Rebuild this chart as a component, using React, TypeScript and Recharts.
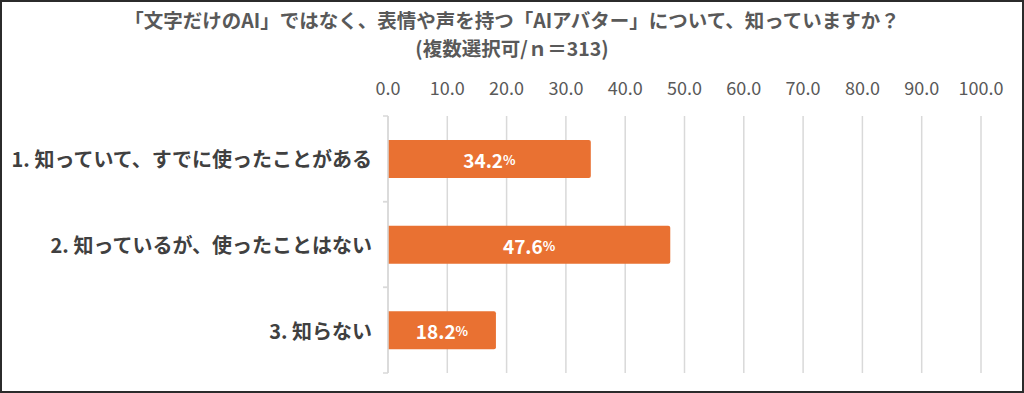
import React from "react";
import { BarChart, Bar, XAxis, YAxis, CartesianGrid, LabelList } from "recharts";

const categories = [
  "1. 知っていて、すでに使ったことがある",
  "2. 知っているが、使ったことはない",
  "3. 知らない",
];
const values = [34.2, 47.6, 18.2];
const xTicks = [0, 10, 20, 30, 40, 50, 60, 70, 80, 90, 100];
const titleLines = [
  "「文字だけのAI」ではなく、表情や声を持つ「AIアバター」について、知っていますか？",
  "(複数選択可/ｎ＝313)",
];

const data = categories.map((c, i) => ({ name: c, value: values[i] }));

const FONT = "'Noto Sans CJK JP', 'Noto Sans', sans-serif";
const GRID = "#d9d9d9";
const BAR = "#E97132";

const CategoryTick = (props: any) => {
  const { x, y, payload, height, visibleTicksCount } = props;
  const band = height && visibleTicksCount ? height / visibleTicksCount : 86;
  const axisX = x + 16;
  return (
    <g>
      <line x1={axisX - 5} x2={axisX} y1={y - band / 2} y2={y - band / 2} stroke={GRID} strokeWidth={1.5} />
      <line x1={axisX - 5} x2={axisX} y1={y + band / 2} y2={y + band / 2} stroke={GRID} strokeWidth={1.5} />
      <text
        x={x}
        y={y}
        textAnchor="end"
        dominantBaseline="central"
        fill="#404040"
        fontSize={20}
        fontWeight={700}
        fontFamily={FONT}
      >
        {payload.value}
      </text>
    </g>
  );
};

const ValueLabel = (props: any) => {
  const { x, y, width, height, value } = props;
  return (
    <text
      x={x + width / 2}
      y={y + height / 2}
      textAnchor="middle"
      dominantBaseline="central"
      fill="#ffffff"
      fontFamily={FONT}
      fontWeight={700}
    >
      <tspan fontSize={19}>{Number(value).toFixed(1)}</tspan>
      <tspan fontSize={13}>%</tspan>
    </text>
  );
};

export default function App() {
  return (
    <div style={{ position: "absolute", left: 0, top: 0, width: 1024, height: 393, background: "#fff" }}>
      <BarChart
        width={1024}
        height={393}
        data={data}
        layout="vertical"
        margin={{ top: 86, right: 43, bottom: 20, left: 0 }}
        barCategoryGap={24}
      >
        <CartesianGrid horizontal={false} vertical={true} stroke={GRID} strokeWidth={1.5} />
        <XAxis
          type="number"
          orientation="top"
          domain={[0, 100]}
          ticks={xTicks}
          interval={0}
          tickFormatter={(v: number) => v.toFixed(1)}
          axisLine={false}
          tickLine={false}
          tickSize={0}
          tickMargin={21}
          tick={{ fill: "#595959", fontSize: 18, fontFamily: FONT }}
          height={30}
        />
        <YAxis
          type="category"
          dataKey="name"
          width={388}
          axisLine={{ stroke: GRID, strokeWidth: 1.5 }}
          tickLine={false}
          tickSize={0}
          tickMargin={16}
          tick={<CategoryTick />}
          interval={0}
        />
        <Bar dataKey="value" fill={BAR} isAnimationActive={false} radius={[0, 2, 2, 0]}>
          <LabelList dataKey="value" content={<ValueLabel />} />
        </Bar>
      </BarChart>
      <div
        style={{
          position: "absolute",
          left: 0,
          top: 6,
          width: 1024,
          textAlign: "center",
          fontFamily: FONT,
          fontWeight: 700,
          fontSize: 19.5,
          lineHeight: "28px",
          color: "#595959",
        }}
      >
        <div>{titleLines[0]}</div>
        <div>{titleLines[1]}</div>
      </div>
      <div
        style={{
          position: "absolute",
          left: 0,
          top: 0,
          width: 1024,
          height: 393,
          boxSizing: "border-box",
          border: "2px solid #2b2b2b",
          pointerEvents: "none",
        }}
      />
    </div>
  );
}
